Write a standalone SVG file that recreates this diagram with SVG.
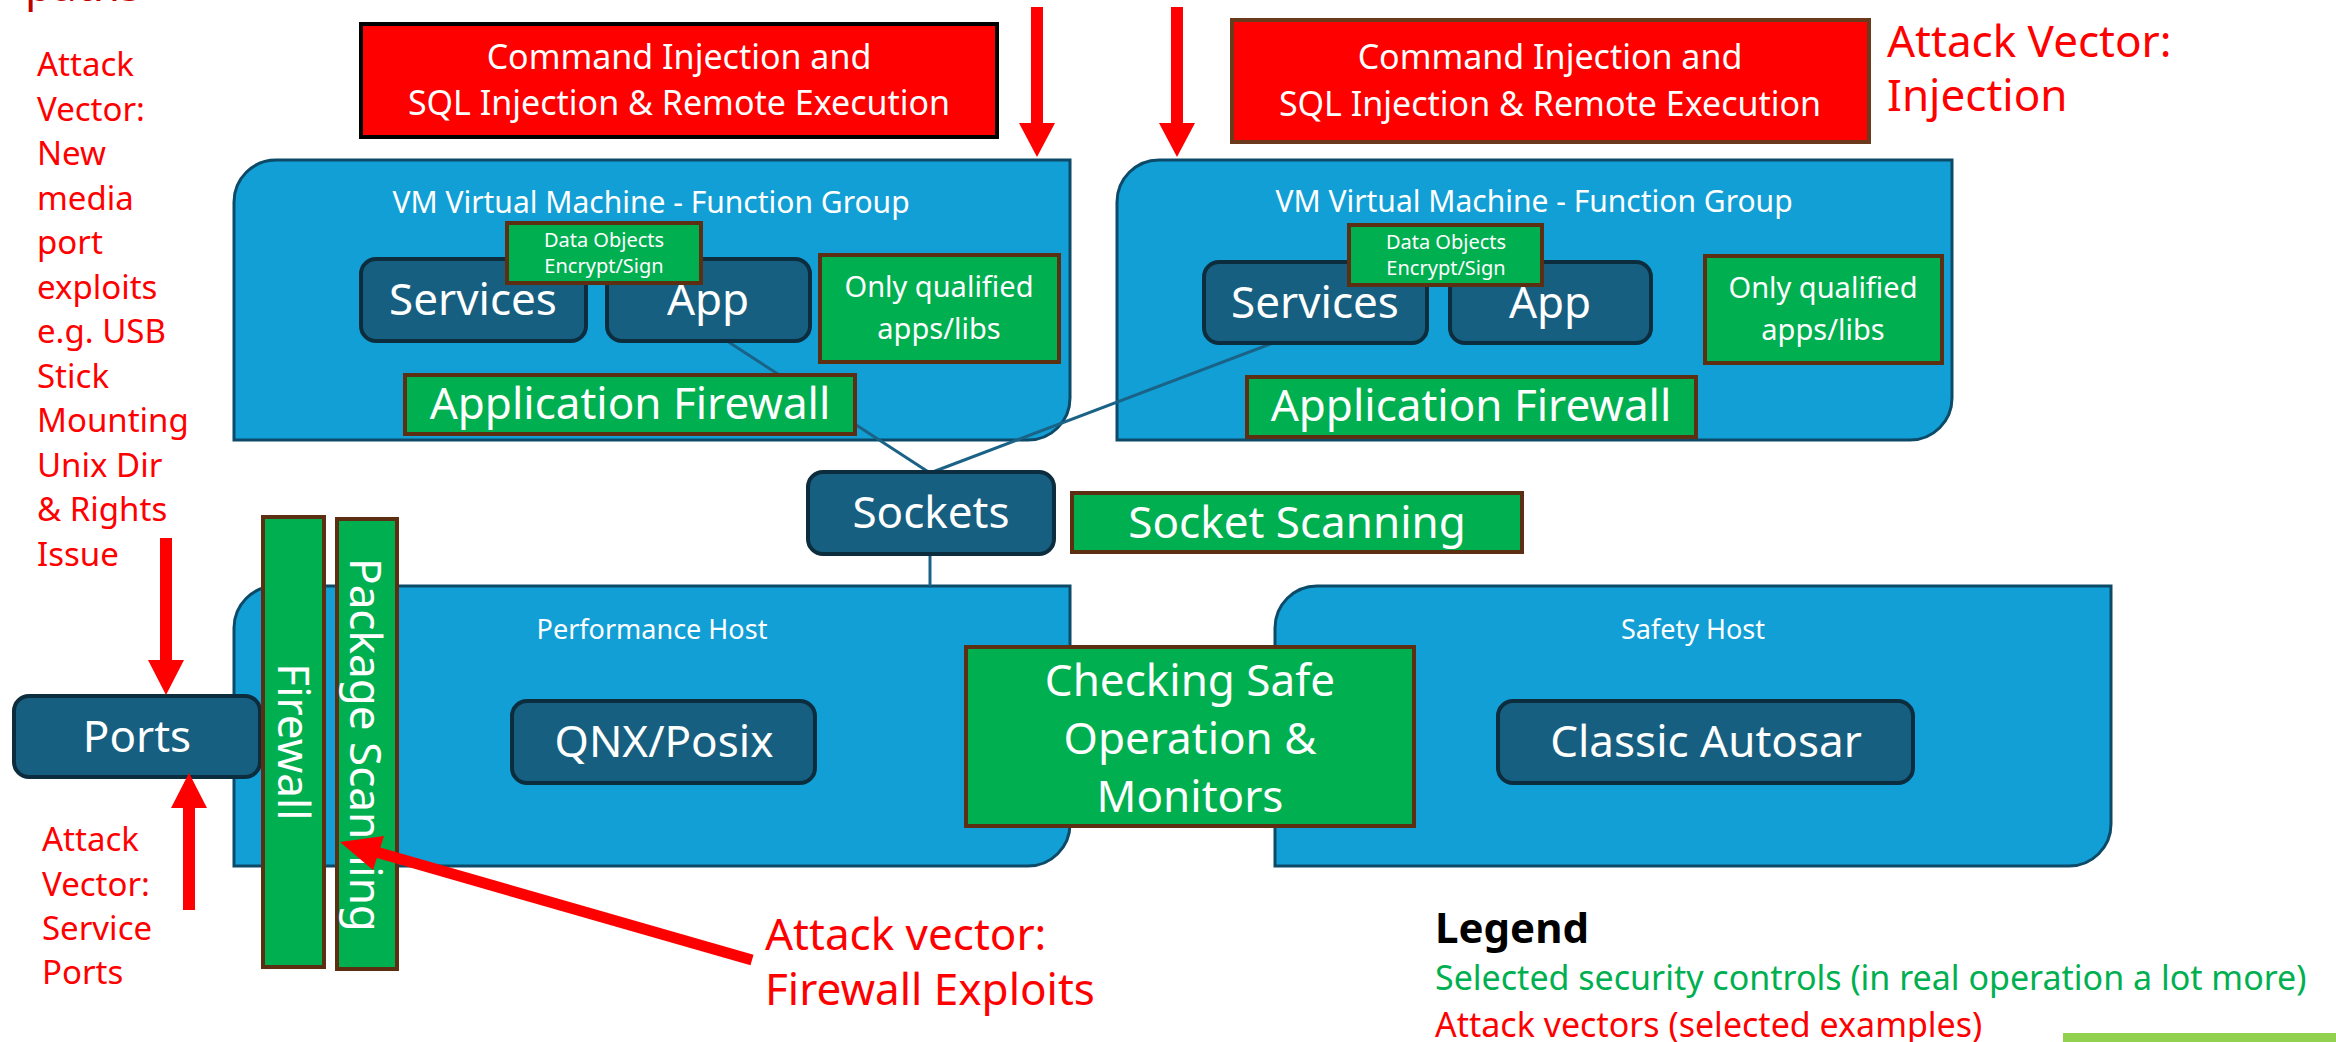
<svg xmlns="http://www.w3.org/2000/svg" width="2336" height="1042" viewBox="0 0 2336 1042">
<style>
  text{font-family:"Noto Sans","Liberation Sans",sans-serif}
  .host{fill:#129fd6;stroke:#0d4a68;stroke-width:3}
  .dark{fill:#175f80;stroke:#0c2d3e;stroke-width:4}
  .ctl{fill:#00b050;stroke:#5c2e12;stroke-width:4}
  .atk{fill:#ff0000;stroke-width:4}
  .w{fill:#ffffff}
  .red{fill:#ff0000}
  .mid{text-anchor:middle}
  .big{font-size:44px}
  .conn{stroke:#1a6386;stroke-width:3;fill:none}
  .arrow{fill:#ff0000}
</style>

<!-- free annotations -->
<g id="annotations">
  <text x="25" y="1" font-size="44" fill="#c00000">paths</text>
  <g class="red" font-size="33">
    <text x="37" y="76">Attack</text>
    <text x="37" y="120.5">Vector:</text>
    <text x="37" y="165">New</text>
    <text x="37" y="209.5">media</text>
    <text x="37" y="254">port</text>
    <text x="37" y="298.5">exploits</text>
    <text x="37" y="343">e.g. USB</text>
    <text x="37" y="387.5">Stick</text>
    <text x="37" y="432">Mounting</text>
    <text x="37" y="476.5">Unix Dir</text>
    <text x="37" y="521">&amp; Rights</text>
    <text x="37" y="565.5">Issue</text>
    <text x="42" y="851">Attack</text>
    <text x="42" y="896">Vector:</text>
    <text x="42" y="940">Service</text>
    <text x="42" y="984">Ports</text>
  </g>
  <g class="red" font-size="44">
    <text x="1887" y="57">Attack Vector:</text>
    <text x="1887" y="111">Injection</text>
    <text x="765" y="950">Attack vector:</text>
    <text x="765" y="1005">Firewall Exploits</text>
  </g>
</g>

<!-- attack boxes -->
<g id="attack-box-1">
  <rect class="atk" x="361" y="24" width="636" height="113" stroke="#000000"/>
  <text class="w mid" x="679" y="69" font-size="34">Command Injection and</text>
  <text class="w mid" x="679" y="115" font-size="34">SQL Injection &amp; Remote Execution</text>
</g>
<g id="attack-box-2">
  <rect class="atk" x="1232" y="20" width="637" height="122" stroke="#6b3a1c"/>
  <text class="w mid" x="1550" y="69" font-size="34">Command Injection and</text>
  <text class="w mid" x="1550" y="116" font-size="34">SQL Injection &amp; Remote Execution</text>
</g>

<!-- host containers -->
<g id="vm1">
  <path class="host" d="M276,160 H1070 V398 A42,42 0 0 1 1028,440 H234 V202 A42,42 0 0 1 276,160 Z"/>
  <text class="w mid" x="651" y="213" font-size="30">VM Virtual Machine - Function Group</text>
</g>
<g id="vm2">
  <path class="host" d="M1159,160 H1952 V398 A42,42 0 0 1 1910,440 H1117 V202 A42,42 0 0 1 1159,160 Z"/>
  <text class="w mid" x="1534" y="212" font-size="30">VM Virtual Machine - Function Group</text>
</g>
<g id="performance-host">
  <path class="host" d="M276,586 H1070 V824 A42,42 0 0 1 1028,866 H234 V628 A42,42 0 0 1 276,586 Z"/>
  <text class="w mid" x="652" y="639" font-size="27">Performance Host</text>
</g>
<g id="safety-host">
  <path class="host" d="M1317,586 H2111 V824 A42,42 0 0 1 2069,866 H1275 V628 A42,42 0 0 1 1317,586 Z"/>
  <text class="w mid" x="1693" y="639" font-size="27">Safety Host</text>
</g>

<!-- connectors -->
<g id="connectors">
  <line class="conn" x1="727" y1="341" x2="930" y2="473"/>
  <line class="conn" x1="1273" y1="343" x2="930" y2="473"/>
  <line class="conn" x1="930" y1="554" x2="930" y2="586"/>
</g>

<!-- VM1 nodes -->
<g id="services-1">
  <rect class="dark" x="361" y="259" width="225" height="82" rx="15"/>
  <text class="w mid big" x="473" y="315">Services</text>
</g>
<g id="app-1">
  <rect class="dark" x="607" y="259" width="203" height="82" rx="15"/>
  <text class="w mid big" x="708" y="315">App</text>
</g>
<g id="data-objects-1">
  <rect class="ctl" x="507" y="223" width="194" height="60"/>
  <text class="w mid" x="604" y="247" font-size="20">Data Objects</text>
  <text class="w mid" x="604" y="273" font-size="20">Encrypt/Sign</text>
</g>
<g id="only-qualified-1">
  <rect class="ctl" x="820" y="255" width="239" height="107"/>
  <text class="w mid" x="939" y="297" font-size="29">Only qualified</text>
  <text class="w mid" x="939" y="339" font-size="29">apps/libs</text>
</g>
<g id="app-firewall-1">
  <rect class="ctl" x="405" y="375" width="450" height="59"/>
  <text class="w mid big" x="630" y="419">Application Firewall</text>
</g>

<!-- VM2 nodes -->
<g id="services-2">
  <rect class="dark" x="1204" y="262" width="223" height="81" rx="15"/>
  <text class="w mid big" x="1315" y="318">Services</text>
</g>
<g id="app-2">
  <rect class="dark" x="1450" y="262" width="201" height="81" rx="15"/>
  <text class="w mid big" x="1550" y="318">App</text>
</g>
<g id="data-objects-2">
  <rect class="ctl" x="1349" y="225" width="193" height="60"/>
  <text class="w mid" x="1446" y="249" font-size="20">Data Objects</text>
  <text class="w mid" x="1446" y="275" font-size="20">Encrypt/Sign</text>
</g>
<g id="only-qualified-2">
  <rect class="ctl" x="1705" y="256" width="237" height="107"/>
  <text class="w mid" x="1823" y="298" font-size="29">Only qualified</text>
  <text class="w mid" x="1823" y="340" font-size="29">apps/libs</text>
</g>
<g id="app-firewall-2">
  <rect class="ctl" x="1247" y="377" width="449" height="60"/>
  <text class="w mid big" x="1471" y="421">Application Firewall</text>
</g>

<!-- middle nodes -->
<g id="sockets">
  <rect class="dark" x="808" y="472" width="246" height="82" rx="15"/>
  <text class="w mid big" x="931" y="528">Sockets</text>
</g>
<g id="socket-scanning">
  <rect class="ctl" x="1072" y="493" width="450" height="59"/>
  <text class="w mid big" x="1297" y="538">Socket Scanning</text>
</g>

<!-- host nodes -->
<g id="qnx-posix">
  <rect class="dark" x="512" y="701" width="303" height="82" rx="15"/>
  <text class="w mid big" x="664" y="757">QNX/Posix</text>
</g>
<g id="classic-autosar">
  <rect class="dark" x="1498" y="701" width="415" height="82" rx="15"/>
  <text class="w mid big" x="1706" y="757">Classic Autosar</text>
</g>
<g id="checking-safe-operation">
  <rect class="ctl" x="966" y="647" width="448" height="179"/>
  <text class="w mid big" x="1190" y="696">Checking Safe</text>
  <text class="w mid big" x="1190" y="754">Operation &amp;</text>
  <text class="w mid big" x="1190" y="812">Monitors</text>
</g>
<g id="ports">
  <rect class="dark" x="14" y="696" width="246" height="81" rx="15"/>
  <text class="w mid big" x="137" y="752">Ports</text>
</g>
<g id="firewall">
  <rect class="ctl" x="263" y="517" width="61" height="450"/>
  <text class="w mid big" transform="translate(293,742) rotate(90)" dy="0.35em">Firewall</text>
</g>
<g id="package-scanning">
  <rect class="ctl" x="337" y="519" width="60" height="450"/>
  <text class="w mid big" transform="translate(365,745) rotate(90)" dy="0.35em">Package Scanning</text>
</g>

<!-- attack arrows -->
<g id="attack-arrows">
  <polygon class="arrow" points="1031,7 1043,7 1043,123 1055,123 1037,157 1019,123 1031,123"/>
  <polygon class="arrow" points="1171,7 1183,7 1183,123 1195,123 1177,157 1159,123 1171,123"/>
  <polygon class="arrow" points="160,538 172,538 172,660 184,660 166,695 148,660 160,660"/>
  <polygon class="arrow" points="183,910 195,910 195,808 207,808 189,773 171,808 183,808"/>
  <line x1="752" y1="960" x2="376" y2="852" stroke="#ff0000" stroke-width="11"/>
  <polygon class="arrow" points="340,842 384,836 373,870"/>
</g>

<!-- legend -->
<g id="legend">
  <text x="1435" y="943" font-size="42" font-weight="bold" fill="#000000">Legend</text>
  <text x="1435" y="990" font-size="34" fill="#00b050">Selected security controls (in real operation a lot more)</text>
  <text x="1435" y="1037" font-size="34" fill="#ff0000">Attack vectors (selected examples)</text>
  <rect x="2063" y="1033" width="273" height="9" fill="#92d050"/>
</g>
</svg>
